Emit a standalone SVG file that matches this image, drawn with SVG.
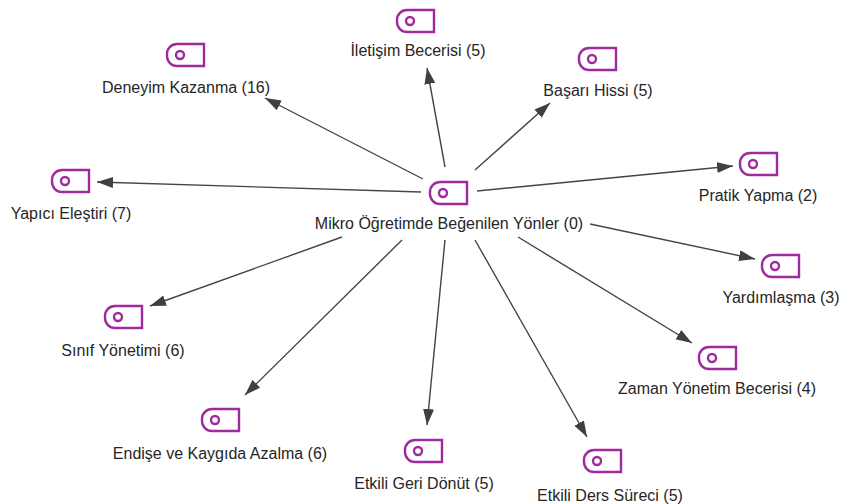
<svg xmlns="http://www.w3.org/2000/svg" xmlns:xlink="http://www.w3.org/1999/xlink" width="842" height="504" viewBox="0 0 842 504">
<style>
.lbl{font-family:"Liberation Sans",Arial,sans-serif;font-size:16px;fill:#262626;text-anchor:middle}
.edge{stroke:#444;stroke-width:1.4;fill:none;marker-end:url(#arr)}
.tag{fill:none;stroke:#9e2a9e;stroke-width:2.4}
</style>
<defs>
<marker id="arr" markerUnits="userSpaceOnUse" markerWidth="18" markerHeight="12" refX="16" refY="5.5" orient="auto">
<path d="M0,0 L16,5.5 L0,11 Z" fill="#404040"/>
</marker>
<g id="icon">
<path class="tag" d="M10,0 H37 V22 H10 A10 10 0 0 1 0,12 V10 A10 10 0 0 1 10,0 Z"/>
<circle class="tag" cx="13" cy="11" r="4" stroke-width="2"/>
</g>
</defs>
<rect width="842" height="504" fill="#ffffff"/>
<g id="connectors">
<line class="edge" x1="445" y1="167" x2="427" y2="68"/>
<line class="edge" x1="475" y1="170" x2="550" y2="103"/>
<line class="edge" x1="423" y1="179" x2="265" y2="98"/>
<line class="edge" x1="421" y1="192" x2="97" y2="182"/>
<line class="edge" x1="477" y1="191" x2="733" y2="166"/>
<line class="edge" x1="590" y1="224" x2="755" y2="259"/>
<line class="edge" x1="518" y1="237" x2="692" y2="343"/>
<line class="edge" x1="475" y1="240" x2="587" y2="437"/>
<line class="edge" x1="445" y1="240" x2="427" y2="425"/>
<line class="edge" x1="402" y1="240" x2="245" y2="395"/>
<line class="edge" x1="342" y1="237" x2="150" y2="306"/>
</g>
<g id="n-center"><use xlink:href="#icon" x="430" y="182"/><text class="lbl" x="449" y="229">Mikro Öğretimde Beğenilen Yönler (0)</text></g>
<g id="n-iletisim"><use xlink:href="#icon" x="397" y="10"/><text class="lbl" x="418" y="56">İletişim Becerisi (5)</text></g>
<g id="n-basari"><use xlink:href="#icon" x="579" y="48"/><text class="lbl" x="598" y="96">Başarı Hissi (5)</text></g>
<g id="n-deneyim"><use xlink:href="#icon" x="167" y="44"/><text class="lbl" x="186" y="93">Deneyim Kazanma (16)</text></g>
<g id="n-yapici"><use xlink:href="#icon" x="52" y="170"/><text class="lbl" x="71" y="219">Yapıcı Eleştiri (7)</text></g>
<g id="n-pratik"><use xlink:href="#icon" x="740" y="153"/><text class="lbl" x="758" y="201">Pratik Yapma (2)</text></g>
<g id="n-yardim"><use xlink:href="#icon" x="762" y="255"/><text class="lbl" x="781" y="303">Yardımlaşma (3)</text></g>
<g id="n-sinif"><use xlink:href="#icon" x="105" y="306"/><text class="lbl" x="123" y="356">Sınıf Yönetimi (6)</text></g>
<g id="n-zaman"><use xlink:href="#icon" x="699" y="347"/><text class="lbl" x="717" y="394">Zaman Yönetim Becerisi (4)</text></g>
<g id="n-endise"><use xlink:href="#icon" x="202" y="409"/><text class="lbl" x="220" y="459">Endişe ve Kaygıda Azalma (6)</text></g>
<g id="n-geri"><use xlink:href="#icon" x="405" y="440"/><text class="lbl" x="424" y="489">Etkili Geri Dönüt (5)</text></g>
<g id="n-ders"><use xlink:href="#icon" x="584" y="450"/><text class="lbl" x="610" y="501">Etkili Ders Süreci (5)</text></g>
</svg>
